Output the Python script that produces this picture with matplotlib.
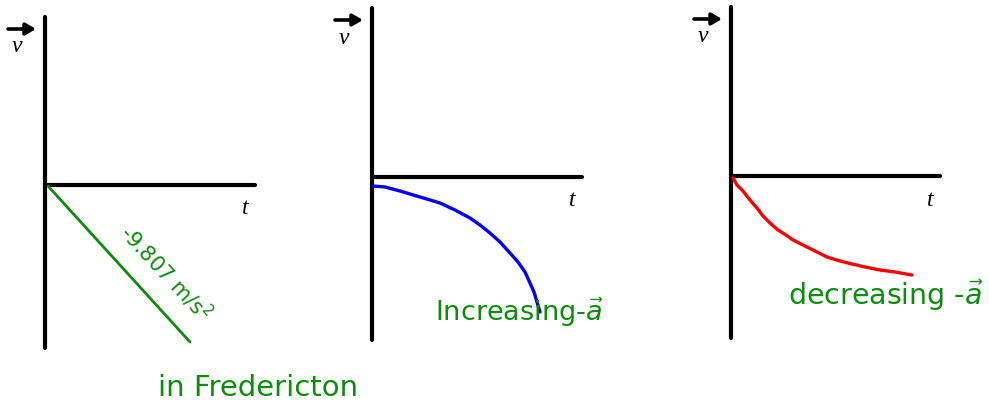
import matplotlib.pyplot as plt

# Sketch layout in pixel units (x to the right, y downward).
W, H = 989, 409

# Axes of the three v-t panels: (x of v-axis, y top, y bottom, y of t-axis, x end of t-axis)
panel_axes = [
    (45, 17, 348, 185, 255),
    (372, 8, 340, 177, 582),
    (731, 7, 338, 176, 940),
]

# Constant acceleration line (panel 1)
const_x = [48, 190]
const_y = [186, 342]

# Increasing negative acceleration (panel 2)
incr_x = [373, 385, 400, 420, 440, 455, 470, 480, 490, 500, 510, 518, 525, 530, 534, 537, 540]
incr_y = [186, 187, 191, 197, 203, 210, 218, 225, 233, 242, 253, 262, 272, 283, 292, 302, 312]

# Decreasing negative acceleration (panel 3)
decr_x = [733, 737, 743, 750, 757, 763, 770, 778, 786, 793, 805, 815, 827, 840, 852, 865, 880, 895, 912]
decr_y = [178, 185, 191, 200, 208, 216, 223, 230, 235, 240, 246, 251, 257, 261, 264, 267, 270, 272, 275]

GREEN = "#0c8c0c"

fig = plt.figure(figsize=(W / 100, H / 100), dpi=100)
ax = fig.add_axes([0, 0, 1, 1])
ax.set_xlim(0, W)
ax.set_ylim(H, 0)
ax.axis("off")
plt.rcParams["mathtext.fontset"] = "dejavusans"

for x0, ytop, ybot, yt, xend in panel_axes:
    ax.plot([x0, x0], [ytop, ybot], color="black", lw=3.0, solid_capstyle="round")
    ax.plot([x0, xend], [yt, yt], color="black", lw=3.0, solid_capstyle="round")
    # vector arrow above the v label
    ax.annotate("", xy=(x0 - 9, ytop + 12), xytext=(x0 - 37, ytop + 12),
                arrowprops=dict(arrowstyle="-|>,head_length=0.6,head_width=0.35",
                                color="black", lw=2.6, shrinkA=0, shrinkB=0))
    ax.text(x0 - 28, ytop + 30, "v", family="Liberation Serif", style="italic",
            fontsize=17, ha="center", va="center")
    ax.text(xend - 10, yt + 24, "t", family="Liberation Serif", style="italic",
            fontsize=17, ha="center", va="center")

ax.plot(const_x, const_y, color=GREEN, lw=2.0, solid_capstyle="round")
ax.plot(incr_x, incr_y, color="#0000ff", lw=2.4, solid_capstyle="round",
        solid_joinstyle="round")
ax.plot(decr_x, decr_y, color="#ff0000", lw=2.4, solid_capstyle="round",
        solid_joinstyle="round")

ax.text(166, 273, r"-9.807 m/s$^2$", color=GREEN, fontsize=15, rotation=-47,
        ha="center", va="center", family="DejaVu Sans")
ax.text(158, 388, "in Fredericton", color=GREEN, fontsize=21, ha="left",
        va="center", family="DejaVu Sans")
ax.text(435, 312, r"Increasing-$\vec{a}$", color=GREEN, fontsize=19.5, ha="left",
        va="center", family="DejaVu Sans")
ax.text(788, 295, r"decreasing -$\vec{a}$", color=GREEN, fontsize=20.5, ha="left",
        va="center", family="DejaVu Sans")

fig.savefig("out.png", dpi=100)
